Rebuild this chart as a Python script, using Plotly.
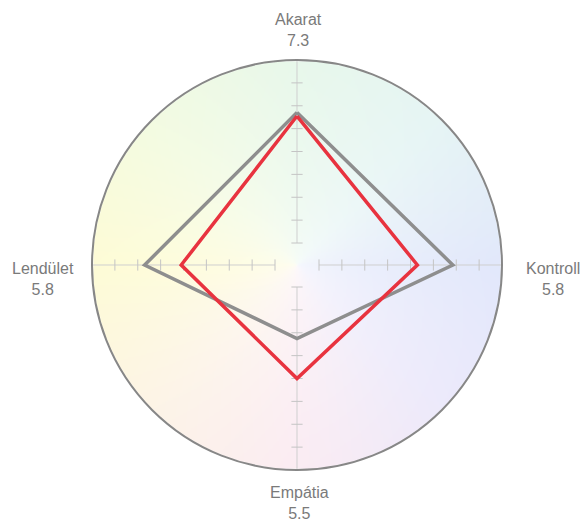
import base64
import struct
import zlib

import numpy as np
import plotly.graph_objects as go

# ---------------- data ----------------
categories = ["Akarat", "Kontroll", "Empátia", "Lendület"]
label_values = ["7.3", "5.8", "5.5", "5.8"]
gray_values = [5.7, 5.85, 2.25, 5.7]
red_values = [5.55, 4.3, 4.0, 4.1]
axis_ticks = [0, 1, 2, 3, 4, 5, 6, 7]
radial_max = 8

# ---------------- background gradient image ----------------
def make_png(rgba):
    h, w, _ = rgba.shape
    raw = b"".join(b"\x00" + rgba[i].tobytes() for i in range(h))

    def chunk(tag, data):
        c = struct.pack(">I", len(data)) + tag + data
        return c + struct.pack(">I", zlib.crc32(tag + data) & 0xFFFFFFFF)

    png = b"\x89PNG\r\n\x1a\n"
    png += chunk(b"IHDR", struct.pack(">IIBBBBB", w, h, 8, 6, 0, 0, 0))
    png += chunk(b"IDAT", zlib.compress(raw, 9))
    png += chunk(b"IEND", b"")
    return "data:image/png;base64," + base64.b64encode(png).decode()


N = 300
yy, xx = np.mgrid[0:N, 0:N]
cx = (N - 1) / 2
dx = (xx - cx) / cx
dy = (cx - yy) / cx
rad = np.sqrt(dx ** 2 + dy ** 2)
ang = (np.degrees(np.arctan2(dy, dx)) + 360) % 360
stops_a = np.array([0, 45, 90, 135, 180, 225, 270, 315, 360])
stops_c = np.array([
    [226, 232, 251],
    [230, 245, 245],
    [232, 248, 235],
    [243, 251, 226],
    [254, 252, 214],
    [253, 244, 231],
    [251, 236, 243],
    [237, 234, 251],
    [226, 232, 251],
], dtype=float)
col = np.stack([np.interp(ang, stops_a, stops_c[:, k]) for k in range(3)], axis=-1)
t = np.clip(0.25 + 0.75 * np.sqrt(np.clip(rad, 0, 1)), 0, 1)[..., None]
col = 255 * (1 - t) + col * t
alpha = np.where(rad <= 1.0, 255, 0)
rgba = np.concatenate([col, alpha[..., None]], axis=-1).astype(np.uint8)
bg_src = make_png(rgba)

# ---------------- figure ----------------
W, H = 582, 522
cxp, cyp, R = 297, 265, 205
dom_x = [(cxp - R) / W, (cxp + R) / W]
dom_y = [(H - cyp - R) / H, (H - cyp + R) / H]

fig = go.Figure()

tick_symbols = {"Akarat": "line-ew", "Empátia": "line-ew",
                "Kontroll": "line-ns", "Lendület": "line-ns"}
for c in categories:
    fig.add_trace(go.Scatterpolar(
        r=axis_ticks, theta=[c] * len(axis_ticks), mode="markers",
        marker=dict(symbol=tick_symbols[c], size=8,
                    line=dict(color="#c4c4c4", width=1)),
        hoverinfo="skip", showlegend=False))

fig.add_trace(go.Scatterpolar(
    r=gray_values + gray_values[:1], theta=categories + categories[:1],
    mode="lines", line=dict(color="#8e8e8e", width=3.5),
    showlegend=False, name="gray"))
fig.add_trace(go.Scatterpolar(
    r=red_values + red_values[:1], theta=categories + categories[:1],
    mode="lines", line=dict(color="#e8333f", width=3.5),
    showlegend=False, name="red"))

# empty trace that only carries the outer ring subplot
fig.add_trace(go.Scatterpolar(r=[], theta=[], subplot="polar2",
                              showlegend=False, hoverinfo="skip"))

# category labels placed around the circle
label_offsets = {  # (dx, dy) in px from circle centre, screen y downward
    "Akarat": (1, -235),
    "Kontroll": (256, 14),
    "Empátia": (3, 238),
    "Lendület": (-254, 14),
}
annotations = []
for c, v in zip(categories, label_values):
    ox, oy = label_offsets[c]
    annotations.append(dict(
        text=f"{c}<br>{v}", x=(cxp + ox) / W, y=(H - cyp - oy) / H,
        xref="paper", yref="paper", xanchor="center", yanchor="middle",
        showarrow=False, align="center",
        font=dict(size=16, color="#7a7a7a")))

fig.update_layout(
    width=W, height=H,
    margin=dict(l=0, r=0, t=0, b=0),
    paper_bgcolor="white",
    font=dict(family="Liberation Sans, Arial, sans-serif", size=16, color="#7a7a7a"),
    polar=dict(
        domain=dict(x=dom_x, y=dom_y),
        bgcolor="rgba(0,0,0,0)",
        hole=22 / 205,
        radialaxis=dict(range=[0, radial_max], visible=False),
        angularaxis=dict(
            type="category",
            categoryarray=categories,
            direction="clockwise",
            rotation=90,
            showticklabels=False,
            ticks="",
            showgrid=True,
            gridcolor="#cfcfcf",
            gridwidth=1,
            showline=False,
        ),
    ),
    polar2=dict(
        domain=dict(x=dom_x, y=dom_y),
        bgcolor="rgba(0,0,0,0)",
        radialaxis=dict(visible=False),
        angularaxis=dict(
            showticklabels=False, ticks="", showgrid=False,
            showline=True, linecolor="#878787", linewidth=2),
    ),
    annotations=annotations,
    images=[dict(
        source=bg_src, xref="paper", yref="paper",
        x=dom_x[0], y=dom_y[1], sizex=dom_x[1] - dom_x[0], sizey=dom_y[1] - dom_y[0],
        xanchor="left", yanchor="top", sizing="stretch", layer="below")],
)

fig.write_html(
    "out.html",
    config={"displayModeBar": False},
    post_script="document.body.style.margin='0';document.body.style.overflow='hidden';",
)
